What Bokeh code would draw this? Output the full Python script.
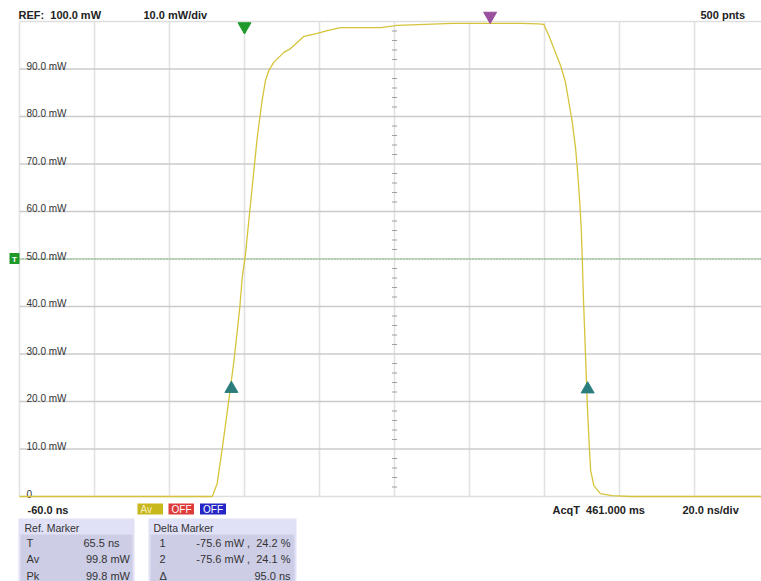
from bokeh.plotting import figure
from bokeh.models import Range1d
from bokeh.embed import file_html
from bokeh.resources import INLINE
from bokeh.core.properties import value

# ---------------- data ----------------
time_ns = [-60.0, -8.6, -7.3, -6.0, -4.2, -2.9, -2.0, -1.25, -0.6, 0.3, 1.15, 2.5,
           3.4, 4.0, 4.7, 5.6, 6.5, 7.8, 10.5, 12.3, 15.7, 19.4, 22.1, 25.6,
           36.3, 40.8, 55.5, 73.6, 78.4, 79.8, 81.15, 82.5, 84.3, 85.6, 86.5,
           87.4, 88.3, 88.9, 89.4, 89.8, 90.05, 90.4, 90.8, 91.4, 92.0, 92.3,
           93.15, 94.9, 98.0, 102.9, 137.9]
power_mw = [0.0, 0.0, 2.7, 9.7, 20.2, 28.0, 34.3, 39.9, 46.2, 51.2, 58.1, 68.6,
            75.6, 79.2, 83.4, 87.6, 89.7, 91.4, 93.5, 94.3, 96.8, 97.5, 98.1, 98.7,
            98.7, 99.2, 99.6, 99.6, 99.5, 99.4, 97.05, 94.3, 90.7, 87.2, 83.0,
            78.8, 73.2, 67.6, 62.0, 56.4, 50.7, 41.3, 32.8, 19.6, 9.7, 5.5,
            2.3, 0.6, 0.2, 0.0, 0.0]

grid_t = [-60, -40, -20, 0, 20, 40, 60, 80, 100, 120]
grid_v = [0, 10, 20, 30, 40, 50, 60, 70, 80, 90, 100]
y_tick_labels = ["0", "10.0 mW", "20.0 mW", "30.0 mW", "40.0 mW", "50.0 mW",
                 "60.0 mW", "70.0 mW", "80.0 mW", "90.0 mW"]

delta_marker_t = [-3.5, 91.5]
delta_marker_v = [24.2, 24.1]
ref_marker_t = [65.5]
trigger_t = [0.0]
trigger_level = [50.0]

NB = "\u00a0"
ref_rows = [("T", "65.5 ns"), ("Av", "99.8 mW"), ("Pk", "99.8 mW")]
delta_rows = [("1", "-75.6 mW ," + NB + NB + "24.2 %"),
              ("2", "-75.6 mW ," + NB + NB + "24.1 %"),
              ("\u0394", "95.0 ns")]

# ---------------- layout helpers (page pixel -> data) ----------------
PX0, PY0, SX, SY = 19.0, 496.0, 3.75, 4.75


def tx(px):
    return -60.0 + (px - PX0) / SX


def vy(py):
    return (PY0 - py) / SY


FONT = value("Liberation Sans")
X_END = tx(761)

p = figure(width=761, height=581, output_backend="svg", toolbar_location=None,
           x_range=Range1d(tx(0), X_END), y_range=Range1d(vy(581), vy(0)),
           x_axis_type=None, y_axis_type=None, min_border=0,
           background_fill_color="white", border_fill_color="white")
p.outline_line_color = None

# grid: vertical lines
p.segment(x0=grid_t, y0=[0] * len(grid_t), x1=grid_t, y1=[100] * len(grid_t),
          line_color="#e2e2e2", line_width=1.6)
# grid: horizontal lines
inner_v = grid_v[1:-1]
p.segment(x0=[-60] * len(inner_v), y0=inner_v, x1=[X_END] * len(inner_v), y1=inner_v,
          line_color="#cbcbcb", line_width=1.4)
edge_v = [grid_v[0], grid_v[-1]]
p.segment(x0=[-60, -60], y0=edge_v, x1=[X_END, X_END], y1=edge_v,
          line_color="#dedede", line_width=1.4)

# minor ticks on the center vertical line
center_t = grid_t[5]
minor_v = [v for v in range(2, 100, 2) if v % 10 != 0]
p.segment(x0=[center_t - 0.7] * len(minor_v), y0=minor_v,
          x1=[center_t + 0.7] * len(minor_v), y1=minor_v,
          line_color="#a0a0a0", line_width=1)

# trigger level (green dotted)
p.segment(x0=[-60], y0=trigger_level, x1=[X_END], y1=trigger_level,
          line_color="#6cbf6c", line_width=1.5, line_dash="1 2")

# y labels inside the graticule
p.text(x=[tx(26)] * len(y_tick_labels), y=[v + 0.55 for v in grid_v[:-1]],
       text=y_tick_labels, text_font=FONT, text_font_size="10px",
       text_color="#333333", text_baseline="alphabetic", text_align="left")

# the trace
p.line(time_ns, power_mw, line_color="#d5c43a", line_width=1.3)

# markers
p.scatter(delta_marker_t, [v - 1.5 for v in delta_marker_v], marker="triangle",
          size=13, fill_color="#2b7d7d", line_color="#2b7d7d")
p.scatter(ref_marker_t, [vy(15.5)], marker="inverted_triangle", size=13,
          fill_color="#9a4f9e", line_color="#9a4f9e")
p.scatter(trigger_t, [vy(26)], marker="inverted_triangle", size=13,
          fill_color="#1f9a2a", line_color="#1f9a2a")

# trigger-level flag at left
p.quad(left=[tx(9)], right=[tx(19)], bottom=[vy(263.5)], top=[vy(252.5)],
       fill_color="#1f9a2a", line_color=None)
p.text(x=[tx(14)], y=trigger_level, text=["T"], text_font=FONT, text_font_size="8px",
       text_font_style="bold", text_color="white", text_align="center",
       text_baseline="middle")

# top / bottom captions
p.text(x=[tx(18), tx(143), tx(700)], y=[vy(14)] * 3,
       text=["REF:" + NB + NB + "100.0 mW", "10.0 mW/div", "500 pnts"], text_font=FONT,
       text_font_size="11px", text_font_style="bold", text_color="#222222",
       text_align="left", text_baseline="middle")
p.text(x=[tx(27), tx(552), tx(682)], y=[vy(509.5)] * 3,
       text=["-60.0 ns", "AcqT" + NB + NB + "461.000 ms", "20.0 ns/div"], text_font=FONT,
       text_font_size="11px", text_font_style="bold", text_color="#222222",
       text_align="left", text_baseline="middle")

# channel state boxes
box_l = [137, 168, 199.5]
box_r = [162.5, 193.5, 225.5]
p.quad(left=[tx(v) for v in box_l], right=[tx(v) for v in box_r],
       bottom=[vy(514)] * 3, top=[vy(503)] * 3,
       fill_color=["#c9b81c", "#de3b3b", "#2626c4"], line_color=None)
p.text(x=[tx(v + 3) for v in box_l], y=[vy(508.7)] * 3, text=["Av", "OFF", "OFF"],
       text_font=FONT, text_font_size="10px", text_color=["#f4eec0", "white", "white"],
       text_align="left", text_baseline="middle")

# marker tables
p.quad(left=[tx(18), tx(148)], right=[tx(134), tx(296)],
       bottom=[vy(581)] * 2, top=[vy(518)] * 2,
       fill_color="#e0e0f6", line_color=None)
p.quad(left=[tx(20), tx(150)], right=[tx(132), tx(294)],
       bottom=[vy(581)] * 2, top=[vy(534)] * 2,
       fill_color="#cdcde6", line_color=None)
p.text(x=[tx(24), tx(153)], y=[vy(527)] * 2, text=["Ref. Marker", "Delta Marker"],
       text_font=FONT, text_font_size="10.5px", text_color="#333333",
       text_align="left", text_baseline="middle")

row_py = [542, 558.5, 575]
p.text(x=[tx(26)] * 3, y=[vy(v) for v in row_py], text=[r[0] for r in ref_rows],
       text_font=FONT, text_font_size="11px", text_color="#333333",
       text_align="left", text_baseline="middle")
p.text(x=[tx(119), tx(129.5), tx(129.5)], y=[vy(v) for v in row_py],
       text=[r[1] for r in ref_rows], text_font=FONT, text_font_size="11px",
       text_color="#333333", text_align="right", text_baseline="middle")
p.text(x=[tx(159)] * 3, y=[vy(v) for v in row_py], text=[r[0] for r in delta_rows],
       text_font=FONT, text_font_size="11px", text_color="#333333",
       text_align="left", text_baseline="middle")
p.text(x=[tx(290)] * 3, y=[vy(v) for v in row_py], text=[r[1] for r in delta_rows],
       text_font=FONT, text_font_size="11px", text_color="#333333",
       text_align="right", text_baseline="middle")

open("out.html", "w").write(file_html(p, INLINE))
